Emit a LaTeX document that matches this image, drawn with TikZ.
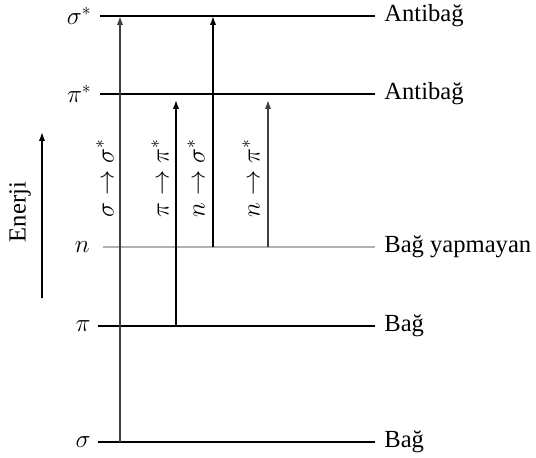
\documentclass[tikz,border=0pt]{standalone}
\usepackage{fontspec}
\setmainfont{Liberation Serif}
\usetikzlibrary{arrows.meta}
\begin{document}
\begin{tikzpicture}[
    x=0.02cm, y=-0.02cm,
    level/.style={line width=1pt},
    lbl/.style={font=\fontsize{14}{16}\selectfont, anchor=west, inner sep=0pt},
    sym/.style={font=\fontsize{14}{16}\selectfont, anchor=east, inner sep=0pt},
    trans/.style={line width=0.8pt, -{Latex[length=5pt,width=3.5pt]}},
    rot/.style={rotate=90, font=\fontsize{14}{16}\selectfont, inner sep=0pt}
    ]
    \useasboundingbox (0,0) rectangle (536,457);

    % Seviyeler
    \node[sym] (ss) at (92,16) {$\sigma^*$};
    \coordinate (ssL) at (100,16);
    \coordinate (ssR) at (375,16);
    \node[lbl] (ssT) at (384,16) {Antibağ};

    \node[sym] (ps) at (92,94) {$\pi^*$};
    \coordinate (psL) at (100,94);
    \coordinate (psR) at (375,94);
    \node[lbl] (psT) at (384,94) {Antibağ};

    \node[sym] (n) at (90,247) {$n$};
    \coordinate (nL) at (103,247);
    \coordinate (nR) at (375,247);
    \node[lbl] (nT) at (384,247) {Bağ yapmayan};

    \node[sym] (p) at (91,326) {$\pi$};
    \coordinate (pL) at (98,326);
    \coordinate (pR) at (375,326);
    \node[lbl] (pT) at (384,326) {Bağ};

    \node[sym] (s) at (91,442) {$\sigma$};
    \coordinate (sL) at (98,442);
    \coordinate (sR) at (375,442);
    \node[lbl] (sT) at (384,442) {Bağ};

    \draw[level] (ssL) -- (ssR);
    \draw[level] (psL) -- (psR);
    \draw[level, gray!60] (nL) -- (nR);
    \draw[level] (pL) -- (pR);
    \draw[level] (sL) -- (sR);

    % Gecisler
    \coordinate (t1) at (120,0);
    \coordinate (t2) at (176,100);
    \coordinate (t3) at (213,0);
    \coordinate (t4) at (268,100);

    \draw[trans, black!75] (t1 |- sL) -- (t1 |- ssL);
    \draw[trans] (t2 |- pL) -- (t2);
    \draw[trans] (t3 |- nL) -- (t3 |- ssL);
    \draw[trans, black!75] (t4 |- nL) -- (t4);

    \node[rot] (l1) at (105,178) {$\sigma\rightarrow\sigma^*$};
    \node[rot] (l2) at (160,178) {$\pi\rightarrow\pi^*$};
    \node[rot] (l3) at (196,178) {$n\rightarrow\sigma^*$};
    \node[rot] (l4) at (251,178) {$n\rightarrow\pi^*$};

    % Enerji oku
    \coordinate (eB) at (42,298);
    \coordinate (eT) at (42,132);
    \draw[trans] (eB) -- (eT);
    \node[rot] (enerji) at (20,212) {Enerji};
\end{tikzpicture}
\end{document}
